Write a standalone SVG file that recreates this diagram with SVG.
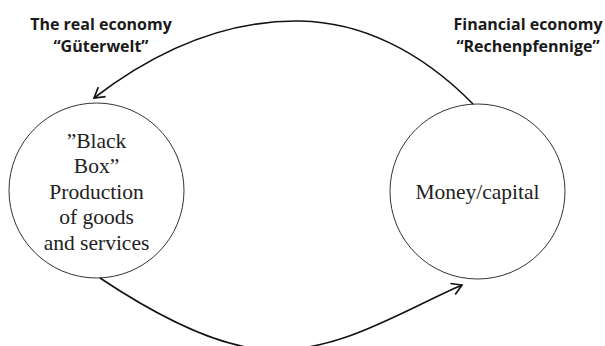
<svg xmlns="http://www.w3.org/2000/svg" width="605" height="346" viewBox="0 0 605 346">
<style>
.node{fill:#fff;stroke:#333;stroke-width:1}
.lbl{font-family:"Liberation Serif",serif;font-size:21.5px;fill:#222;text-anchor:middle}
.hdr{font-family:"Open Sans","Liberation Sans",sans-serif;font-weight:bold;font-size:16px;fill:#1a1a1a;text-anchor:middle}
.edge{fill:none;stroke:#111;stroke-width:1.6}
</style>
<defs>
<marker id="arr" markerWidth="14" markerHeight="14" refX="12" refY="7" orient="auto" markerUnits="userSpaceOnUse">
<path d="M2,1 L12,7 L2,13" fill="none" stroke="#111" stroke-width="1.6"/>
</marker>
</defs>
<g id="header-left">
<text class="hdr" x="101" y="30">The real economy</text>
<text class="hdr" x="101" y="52">“Güterwelt”</text>
</g>
<g id="header-right">
<text class="hdr" x="528" y="30">Financial economy</text>
<text class="hdr" x="528" y="52">“Rechenpfennige”</text>
</g>
<g id="node-production">
<circle class="node" cx="96.5" cy="190.5" r="87.5"/>
<text class="lbl" x="96.5" y="148">”Black</text>
<text class="lbl" x="96.5" y="173">Box”</text>
<text class="lbl" x="96.5" y="199">Production</text>
<text class="lbl" x="96.5" y="224">of goods</text>
<text class="lbl" x="96.5" y="250">and services</text>
</g>
<g id="node-money">
<circle class="node" cx="477.5" cy="191.5" r="87.5"/>
<text class="lbl" x="477.5" y="199">Money/capital</text>
</g>
<g id="connectors">
<path class="edge" d="M473,104 C420,50 360,22 300,21 C220,20 150,55 94,98" marker-end="url(#arr)"/>
<path class="edge" d="M100,278 C160,318 220,348 270,350 C340,352 400,312 462,285" marker-end="url(#arr)"/>
</g>
</svg>
